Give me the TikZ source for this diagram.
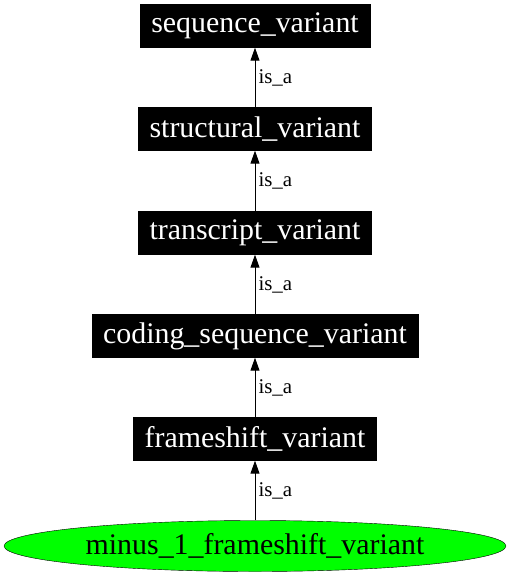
\documentclass[tikz,border=0pt]{standalone}
\usepackage{fontspec}
\setmainfont{Liberation Serif}
\usetikzlibrary{arrows.meta,shapes.geometric}
\begin{document}
\begin{tikzpicture}[x=1bp,y=-1bp,
	term/.style={fill=black,draw=black,text=white,font=\fontsize{30}{36}\selectfont,inner xsep=11bp,inner ysep=0bp,minimum height=43bp},
	leaf/.style={ellipse,fill=green,draw=black,font=\fontsize{30}{36}\selectfont,inner sep=0bp,minimum width=502bp,minimum height=51bp},
	isa/.style={-{Triangle[length=13bp,width=9bp]},line width=1bp},
	lbl/.style={right,inner sep=3bp,font=\fontsize{21}{25}\selectfont}]
	\useasboundingbox (0,0) rectangle (510,576);
	\node[term] (seq)   at (255,26)  {sequence\_variant};
	\node[term] (struc) at (255,129) {structural\_variant};
	\node[term] (trans) at (255,233) {transcript\_variant};
	\node[term] (cds)   at (255,336) {coding\_sequence\_variant};
	\node[term] (fs)    at (255,439) {frameshift\_variant};
	\node[leaf] (mfs)   at (255,546) {minus\_1\_frameshift\_variant};
	% is_a edges, child -> parent
	\draw[isa] (struc) -- (seq)   node[lbl,midway] {is\_a};
	\draw[isa] (trans) -- (struc) node[lbl,midway] {is\_a};
	\draw[isa] (cds)   -- (trans) node[lbl,midway] {is\_a};
	\draw[isa] (fs)    -- (cds)   node[lbl,midway] {is\_a};
	\draw[isa] (mfs)   -- (fs)    node[lbl,midway] {is\_a};
\end{tikzpicture}
\end{document}
